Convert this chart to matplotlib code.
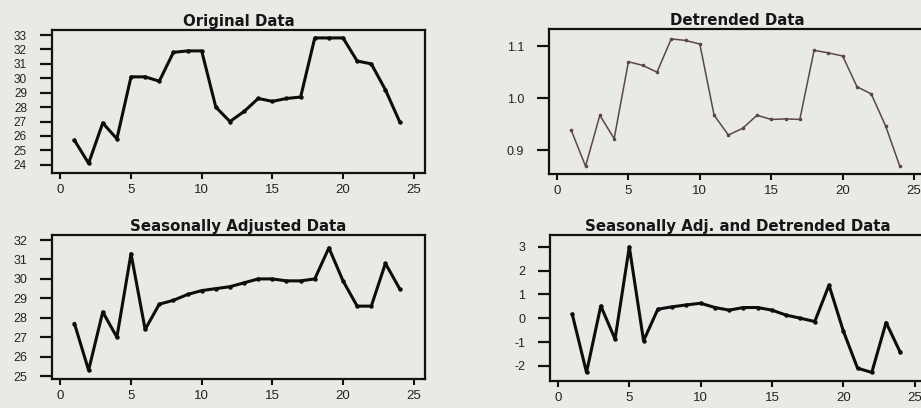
import numpy as np
import matplotlib
matplotlib.use('Agg')
import matplotlib.pyplot as plt

plt.rcParams['font.family'] = ['Liberation Sans', 'DejaVu Sans']

months = list(range(1, 25))

original = [25.7, 24.1, 26.9, 25.8, 30.1, 30.1, 29.8, 31.8, 31.9, 31.9, 28.0, 27.0,
            27.7, 28.6, 28.4, 28.6, 28.7, 32.8, 32.8, 32.8, 31.2, 31.0, 29.2, 27.0]

detrended = [0.938, 0.869, 0.967, 0.922, 1.070, 1.063, 1.050, 1.114, 1.111, 1.104, 0.967, 0.929,
             0.942, 0.967, 0.959, 0.960, 0.959, 1.092, 1.087, 1.081, 1.022, 1.008, 0.947, 0.869]

seas_adjusted = [27.7, 25.3, 28.3, 27.0, 31.3, 27.4, 28.7, 28.9, 29.2, 29.4, 29.5, 29.6,
                 29.8, 30.0, 30.0, 29.9, 29.9, 30.0, 31.6, 29.9, 28.6, 28.6, 30.8, 29.5]

seas_adj_detrended = [0.17, -2.28, 0.52, -0.88, 3.0, -0.95, 0.38, 0.48, 0.56, 0.63, 0.45, 0.34,
                      0.45, 0.45, 0.34, 0.13, 0.0, -0.14, 1.39, -0.53, -2.1, -2.28, -0.18, -1.44]

titles = ['Original Data', 'Detrended Data', 'Seasonally Adjusted Data',
          'Seasonally Adj. and Detrended Data']

W, H = 921, 408
bg = '#e9e9e6'
ink = '#262222'


def make_axes(fig, left, top, right, bottom):
    # pixel box -> figure fraction
    return fig.add_axes([left / W, 1 - bottom / H, (right - left) / W, (bottom - top) / H])


def style_panel(ax, title, yticks, yfmt, ylim, xlim, ysize=9):
    ax.set_facecolor(bg)
    for s in ax.spines.values():
        s.set_linewidth(1.6)
        s.set_color('#111111')
    ax.set_xlim(*xlim)
    ax.set_ylim(*ylim)
    ax.set_xticks([0, 5, 10, 15, 20, 25])
    ax.set_yticks(yticks)
    ax.set_yticklabels([yfmt.format(v) for v in yticks])
    ax.tick_params(axis='x', direction='out', length=4, width=1.5, pad=4,
                   labelsize=9.5, colors='#111111', labelcolor=ink)
    ax.tick_params(axis='y', direction='out', length=9, width=1.6, pad=9,
                   labelsize=ysize, colors='#111111', labelcolor=ink)
    ax.set_title(title, fontsize=10.8, fontweight='bold', pad=3, color='#161616',
                 family='DejaVu Sans')


fig = plt.figure(figsize=(W / 100, H / 100), dpi=100)
fig.patch.set_facecolor(bg)

# top left: original series
ax1 = make_axes(fig, 52, 30, 425, 173)
ax1.plot(months, original, color='#0d0d0d', lw=2.2, marker='o', ms=2.2)
style_panel(ax1, titles[0], list(range(24, 34)), '{:d}', (23.43, 33.35), (-0.59, 25.8), ysize=8.5)

# top right: detrended series, thin line
ax2 = make_axes(fig, 549, 29, 925.5, 174)
ax2.plot(months, detrended, color='#5a4848', lw=1.1, marker='o', ms=1.6)
style_panel(ax2, titles[1], [0.9, 1.0, 1.1], '{:.1f}', (0.854, 1.133), (-0.56, 25.8))

# bottom left: seasonally adjusted
ax3 = make_axes(fig, 52, 235, 425, 379)
ax3.plot(months, seas_adjusted, color='#0d0d0d', lw=2.2, marker='o', ms=2.2)
style_panel(ax3, titles[2], list(range(25, 33)), '{:d}', (24.85, 32.26), (-0.59, 25.8))

# bottom right: seasonally adjusted and detrended
ax4 = make_axes(fig, 550, 235, 926, 381)
ax4.plot(months, seas_adj_detrended, color='#0d0d0d', lw=2.2, marker='o', ms=2.2)
style_panel(ax4, titles[3], [-2, -1, 0, 1, 2, 3], '{:d}', (-2.64, 3.5), (-0.56, 25.8))

fig.savefig('out.png', dpi=100, facecolor=bg)
